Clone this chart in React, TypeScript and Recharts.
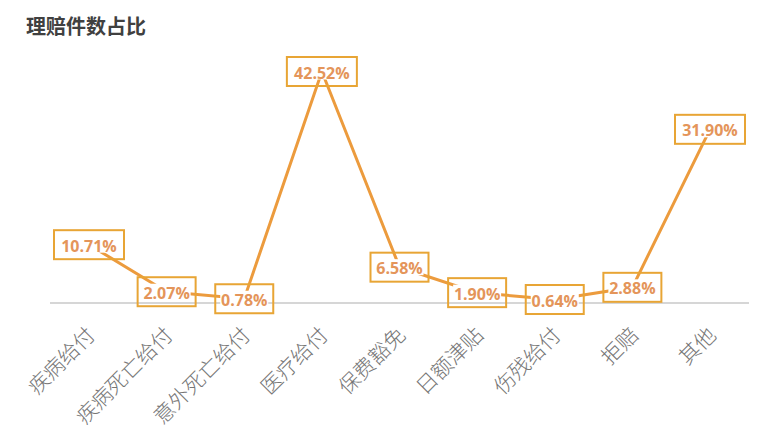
import { LineChart, Line, XAxis, YAxis, LabelList, ReferenceLine } from "recharts";

const categories = [
  "疾病给付",
  "疾病死亡给付",
  "意外死亡给付",
  "医疗给付",
  "保费豁免",
  "日额津贴",
  "伤残给付",
  "拒赔",
  "其他",
];

const shares = [10.71, 2.07, 0.78, 42.52, 6.58, 1.9, 0.64, 2.88, 31.9];

const chartData = categories.map((name, i) => ({ name, share: shares[i] }));

const LINE_COLOR = "#EC9B3D";
const BOX_COLOR = "#E8A535";
const LABEL_COLOR = "#E4955A";

function CategoryTick(props: any) {
  const { x, y, payload } = props;
  const ax = x + 1;
  const ay = y + 19;
  return (
    <text
      x={ax}
      y={ay}
      transform={`rotate(-45 ${ax} ${ay})`}
      textAnchor="end"
      dominantBaseline="central"
      fontSize={21}
      fill="#767676"
      fontFamily="'Noto Sans CJK SC', sans-serif"
      fontWeight={300}
    >
      {payload.value}
    </text>
  );
}

function BoxLabel(props: any) {
  const { x, y, value } = props;
  const text = `${Number(value).toFixed(2)}%`;
  const w = text.length * 12 - 2;
  const h = 29;
  return (
    <g>
      <rect
        x={x - w / 2 + 5}
        y={y - 8}
        width={w - 10}
        height={16}
        fill="#fff"
      />
      <rect
        x={x - w / 2}
        y={y - h / 2}
        width={w}
        height={h}
        fill="none"
        stroke={BOX_COLOR}
        strokeWidth={2}
      />
      <text
        x={x}
        y={y + 1}
        textAnchor="middle"
        dominantBaseline="central"
        fontSize={16}
        fontWeight={700}
        fill={LABEL_COLOR}
        fontFamily="'Open Sans', sans-serif"
      >
        {text}
      </text>
    </g>
  );
}

export default function App() {
  return (
    <div
      style={{
        position: "absolute",
        left: 0,
        top: 0,
        width: 768,
        height: 430,
        background: "#fff",
      }}
    >
      <div
        style={{
          position: "absolute",
          left: 26,
          top: 14,
          fontFamily: "'Noto Sans CJK SC', sans-serif",
          fontWeight: 700,
          fontSize: 20,
          lineHeight: "24px",
          color: "#404040",
        }}
      >
        理赔件数占比
      </div>
      <LineChart
        width={768}
        height={430}
        data={chartData}
        margin={{ top: 58, right: 19, left: 50, bottom: 0 }}
      >
        <XAxis
          dataKey="name"
          interval={0}
          height={127}
          padding={{ left: 39, right: 39 }}
          tickLine={false}
          axisLine={false}
          tick={<CategoryTick />}
        />
        <YAxis hide domain={[0, 45]} />
        <ReferenceLine y={0} stroke="#d6d6d6" strokeWidth={2} />
        <Line
          type="linear"
          dataKey="share"
          stroke={LINE_COLOR}
          strokeWidth={3}
          dot={false}
          isAnimationActive={false}
        >
          <LabelList dataKey="share" content={<BoxLabel />} />
        </Line>
      </LineChart>
    </div>
  );
}
